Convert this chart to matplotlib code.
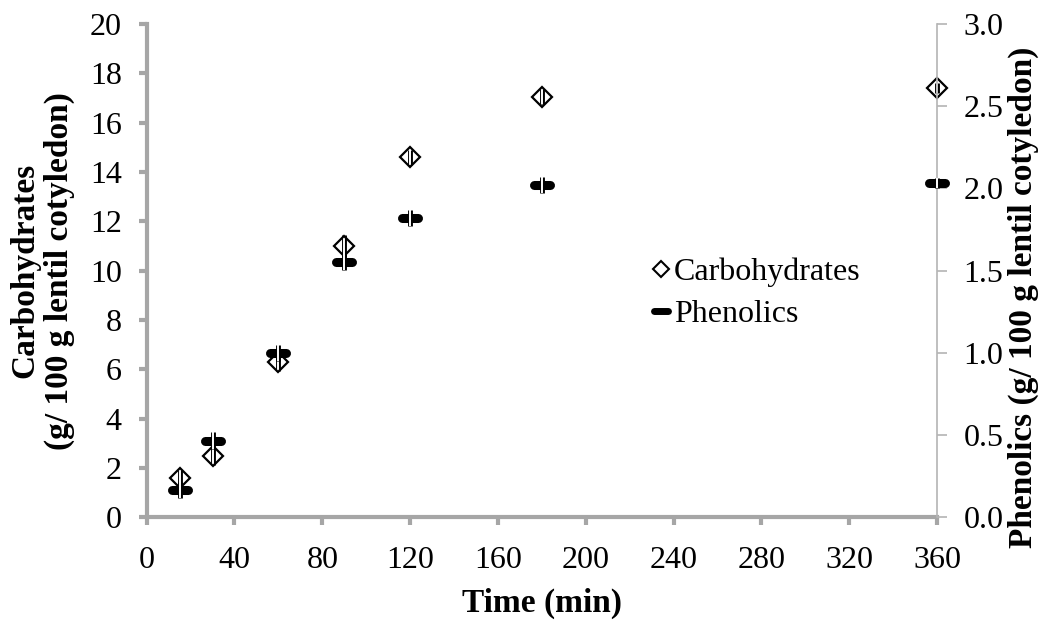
import matplotlib.pyplot as plt
from matplotlib.lines import Line2D
from matplotlib.markers import MarkerStyle

plt.rcParams['font.family'] = ['Liberation Serif', 'DejaVu Serif']

time = [15, 30, 60, 90, 120, 180, 360]
carbs = [1.58, 2.47, 6.29, 11.0, 14.6, 17.05, 17.4]
carbs_err = [0.35, 0.35, 0.35, 0.45, 0.3, 0.3, 0.2]
phenolics = [0.165, 0.465, 1.0, 1.555, 1.82, 2.02, 2.035]
phen_err = [0.05, 0.05, 0.05, 0.05, 0.05, 0.05, 0.03]

grey = '#a6a6a6'
bar = MarkerStyle('_', capstyle='round')

fig = plt.figure(figsize=(10.4, 6.2), dpi=100)
ax = fig.add_axes([0.141, 0.166, 0.760, 0.795])
ax2 = ax.twinx()

# error bars drawn as outlined (double) lines
ax.errorbar(time, carbs, yerr=carbs_err, fmt='none', ecolor='black', elinewidth=3.5, capsize=0, zorder=2, clip_on=False)
ax.errorbar(time, carbs, yerr=carbs_err, fmt='none', ecolor='white', elinewidth=1.4, capsize=0, zorder=3, clip_on=False)
ax.plot(time, carbs, linestyle='none', marker='D', ms=10, mfc='none', mec='black', mew=1.6, zorder=4, clip_on=False)

ax2.plot(time, phenolics, linestyle='none', marker=bar, ms=11, mew=6.5, color='black', zorder=2, clip_on=False)
ax2.errorbar(time, phenolics, yerr=phen_err, fmt='none', ecolor='black', elinewidth=3.5, capsize=0, zorder=3, clip_on=False)
ax2.errorbar(time, phenolics, yerr=phen_err, fmt='none', ecolor='white', elinewidth=1.4, capsize=0, zorder=4, clip_on=False)

ax.set_xlim(0, 360)
ax.set_ylim(0, 20)
ax2.set_ylim(0, 3.0)
ax.set_xticks(range(0, 361, 40))
ax.set_yticks(range(0, 21, 2))
ax2.set_yticks([0, 0.5, 1.0, 1.5, 2.0, 2.5, 3.0])
ax2.set_yticklabels(['0.0', '0.5', '1.0', '1.5', '2.0', '2.5', '3.0'])

for a in (ax, ax2):
    a.spines['top'].set_visible(False)
ax.spines['right'].set_visible(False)
ax2.spines['left'].set_visible(False)
ax2.spines['bottom'].set_visible(False)
for s in ('left', 'bottom'):
    ax.spines[s].set_color(grey)
    ax.spines[s].set_linewidth(3)
ax2.spines['right'].set_color('#b4b4b4')
ax2.spines['right'].set_linewidth(1.2)

ax.tick_params(colors=grey, labelcolor='black', labelsize=23, width=3, length=6, pad=12)
ax.tick_params(axis='x', pad=15)
ax2.tick_params(colors='#b4b4b4', labelcolor='black', labelsize=23, width=1.2, length=7, pad=12)

ax.set_xlabel('Time (min)', fontsize=24, fontweight='bold', labelpad=9)
ax.set_ylabel('Carbohydrates\n(g/ 100 g lentil cotyledon)', fontsize=24, fontweight='bold', linespacing=1.15)
ax.yaxis.set_label_coords(-0.091, 0.5)
ax2.set_ylabel('Phenolics (g/ 100 g lentil cotyledon)', fontsize=24, fontweight='bold')
ax2.yaxis.set_label_coords(1.09, 0.446)

handles = [
    Line2D([], [], linestyle='none', marker='D', ms=8, mfc='none', mec='black', mew=1.5),
    Line2D([], [], linestyle='none', marker=bar, ms=10, mew=5, color='black'),
]
ax2.legend(handles, ['Carbohydrates', 'Phenolics'], loc='upper left', bbox_to_anchor=(0.623, 0.552),
           frameon=False, fontsize=23, handlelength=0.6, handletextpad=0.1, labelspacing=0.4,
           borderaxespad=0)

plt.savefig('out.png', dpi=100)
